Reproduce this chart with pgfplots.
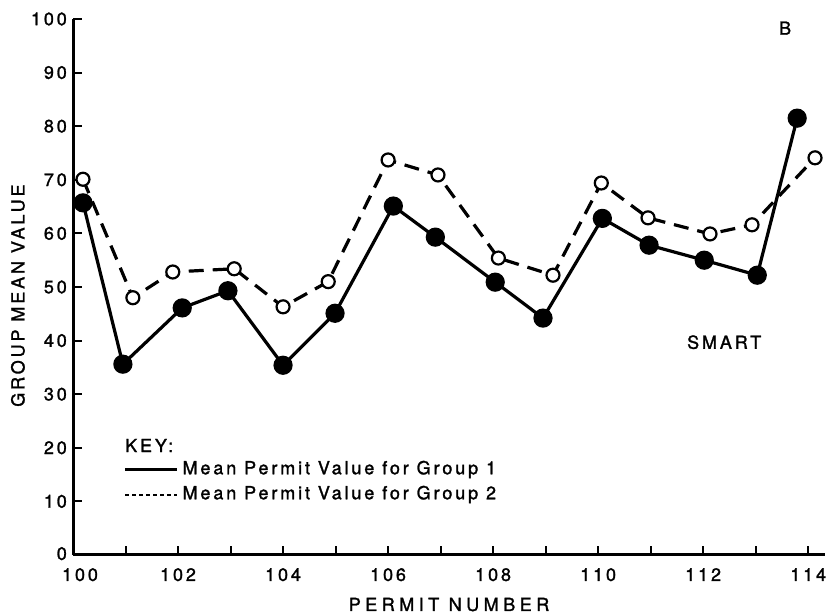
\documentclass[border=0pt]{standalone}
\usepackage{fontspec}
\setmainfont{TeX Gyre Heros}[LetterSpace=16, FakeBold=1.5]
\newfontfamily\widefont{TeX Gyre Heros}[LetterSpace=25, FakeBold=1.5]
\usepackage{pgfplots}
\pgfplotsset{compat=1.18}
\begin{document}
\fontsize{18}{21}\selectfont
\begin{tikzpicture}
\begin{axis}[
  at={(73pt,60pt)}, anchor=south west,
  scale only axis, width=752pt, height=536pt,
  xmin=100, xmax=114.32, ymin=0, ymax=100,
  clip=false,
  axis x line*=bottom, axis y line*=left,
  axis line style={line width=3pt, -},
  /pgf/number format/assume math mode=true,
  xtick={100,102,...,114}, minor xtick={101,103,...,113},
  xticklabels={\hspace{14pt}100,102,104,106,108,110,112,114},
  ytick={0,10,...,100},
  yticklabels={\raisebox{3pt}{0},10,20,30,40,50,60,70,80,90,100},
  tick style={line width=2pt, black},
  major tick length=9pt, minor tick length=9pt,
  tick align=inside,
  tick label style={font=\fontsize{18}{21}\selectfont},
  xticklabel style={yshift=-7pt},
  xlabel={PERMIT NUMBER},
  ylabel={GROUP MEAN VALUE},
  label style={font=\fontsize{18}{21}\selectfont},
  xlabel style={at={(rel axis cs:0.5,0)}, anchor=base, yshift=-56pt, font=\widefont\fontsize{18}{21}\selectfont},
  ylabel style={at={(rel axis cs:0,0.484)}, anchor=south, yshift=42pt},
  legend style={at={(axis cs:100.96,17.9)}, anchor=north west, draw=none, fill=none,
    inner sep=0pt, row sep=4pt, /tikz/column sep=2pt, font=\fontsize{18}{21}\selectfont,
    nodes={inner sep=2pt, text height=13pt, text depth=4pt}},
  legend cell align=left,
  legend image code/.code={\draw[#1] (0pt,0pt) -- (52pt,0pt);},
]
\addplot[line width=3.2pt, black, mark=*, mark size=8pt, mark options={solid, fill=black}, forget plot]
coordinates {
(100.19,65.7) (100.95,35.6) (102.08,46.1) (102.95,49.3) (104.0,35.4)
(104.99,45.1) (106.1,65.1) (106.9,59.3) (108.04,50.9) (108.95,44.2)
(110.08,62.8) (110.97,57.8) (112.02,55.0) (113.03,52.2) (113.79,81.5)
};
\addplot[line width=3.2pt, black, dash pattern=on 15pt off 9pt, mark=*, mark size=6.5pt,
  mark options={solid, fill=white, draw=black, line width=2.2pt}, forget plot]
coordinates {
(100.19,70.1) (101.14,48.0) (101.9,52.8) (103.07,53.4) (104.0,46.3)
(104.86,51.0) (106.0,73.7) (106.95,70.9) (108.1,55.4) (109.14,52.2)
(110.06,69.4) (110.95,62.9) (112.13,59.9) (112.93,61.6) (114.13,74.1)
};
\addlegendimage{line width=3pt, black}
\addlegendentry{Mean Permit Value for Group 1}
\addlegendimage{line width=2.2pt, black, dash pattern=on 4pt off 3pt}
\addlegendentry{Mean Permit Value for Group 2}
\node[anchor=base west, inner sep=0pt] at (axis cs:100.99,19.2) {KEY:};
\node at (axis cs:112.4,39.7) {SMART};
\node at (axis cs:113.56,98.3) {B};
\end{axis}
\pgfresetboundingbox
\useasboundingbox (0,0) rectangle (835pt,615pt);
\end{tikzpicture}
\end{document}
